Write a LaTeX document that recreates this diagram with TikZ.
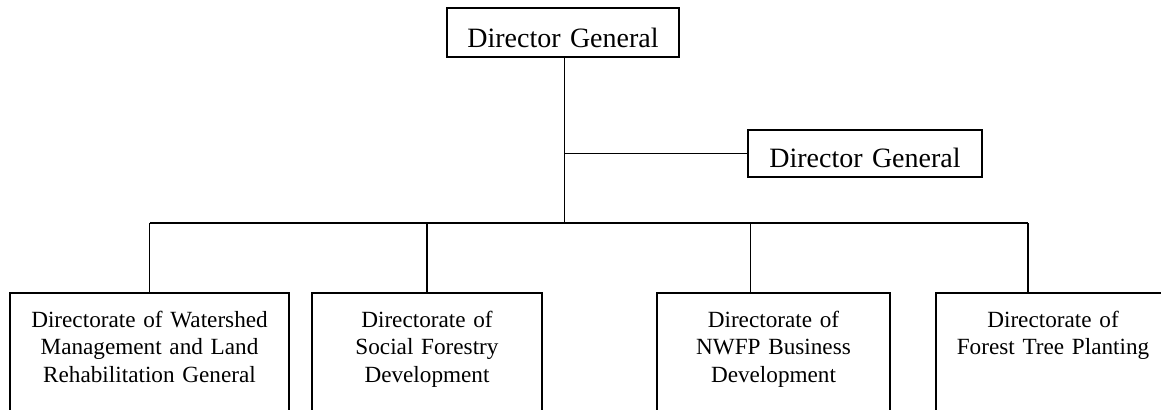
\documentclass[tikz,border=0pt]{standalone}
\usepackage{fontspec}
\setmainfont{Liberation Serif}
\usepackage{tikz}
\usetikzlibrary{
positioning,
calc,
}
\tikzset{
x=0.5pt, y=-0.5pt,
outer sep=0pt,
every node/.style={align=center},
head/.style={rectangle, draw, line width=0.8pt, anchor=north,
  inner xsep=0pt, inner ysep=0pt, text depth=5pt,
  font=\fontsize{14}{16}\selectfont},
unit/.style={rectangle, draw, line width=0.8pt, anchor=north,
  inner xsep=0pt, inner ysep=0pt, text height=17pt, text depth=45pt,
  font=\fontsize{11.6}{13.75}\selectfont},
thin link/.style={line width=0.5pt},
bus/.style={line width=0.9pt},
}

\begin{document}
\begin{tikzpicture}
\useasboundingbox (0,0) rectangle (1161,409);
\clip (0,0) rectangle (1161,409);
% heads
\node (dg) [head, text height=19.5pt, text width=116pt] at (563,8) {Director General};
\node (dg2) [head, text height=18.5pt, text width=117pt] at (865,130) {Director General};
% directorates
\node (wm) [unit, text width=139.5pt] at (149.5,293) {Directorate of Watershed\\Management and Land\\Rehabilitation General};
\node (sf) [unit, text width=115pt] at (427,293) {Directorate of\\Social Forestry\\Development};
\node (nb) [unit, text width=116.5pt] at (773.5,293) {Directorate of\\NWFP Business\\Development};
\node (ft) [unit, text width=117pt] at (1053,293) {Directorate of\\Forest Tree Planting};
% bus
\coordinate (hub) at (564,223);
\coordinate (d1) at (wm.north |- hub);
\coordinate (d2) at (sf.north |- hub);
\coordinate (d3) at (750,223);
\coordinate (d4) at (1028,223);
\draw [thin link] (dg.south -| hub) -- (hub);
\draw [bus] ($(dg.south -| hub)!(dg2.west)!(hub)$) -- (dg2.west);
\draw [bus] (d1) -- (d4);
\draw [thin link] (d1) -- (wm.north);
\draw [bus] (d2) -- (sf.north);
\draw [thin link] (d3) -- (d3 |- nb.north);
\draw [bus] (d4) -- (d4 |- ft.north);
\end{tikzpicture}
\end{document}
